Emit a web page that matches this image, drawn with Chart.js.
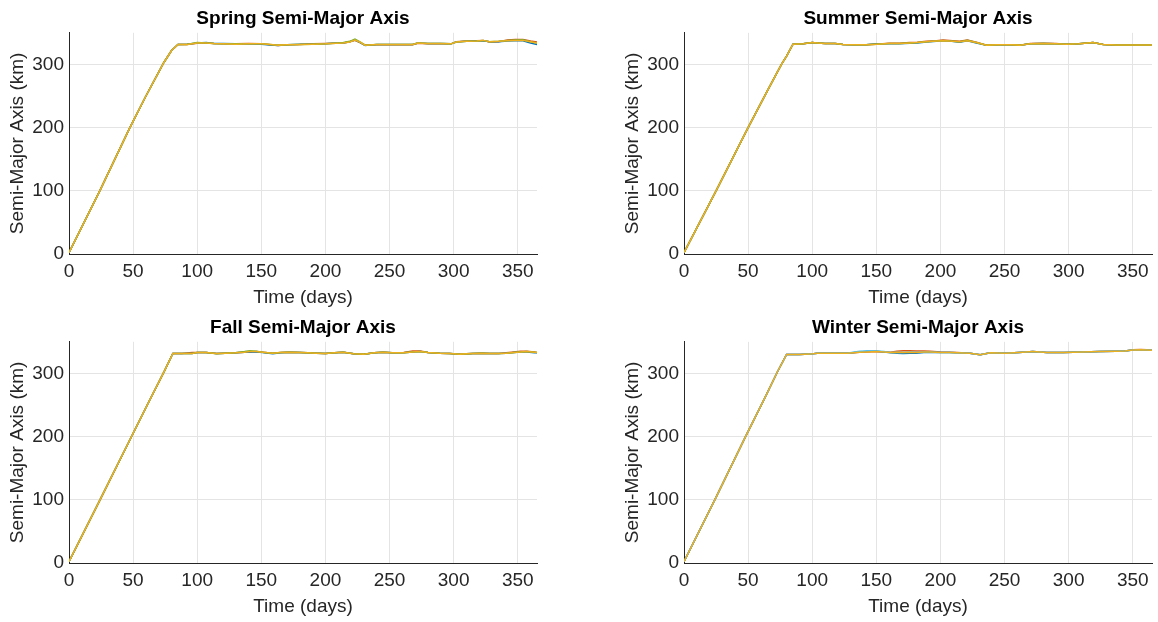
<!DOCTYPE html>
<html>
<head>
<meta charset="utf-8">
<script src="https://cdn.jsdelivr.net/npm/chart.js@4.4.0/dist/chart.umd.min.js"></script>
<style>
  html, body { margin: 0; padding: 0; background: #fff; }
  body { width: 1158px; height: 622px; position: relative; overflow: hidden; }
  canvas { position: absolute; }
</style>
</head>
<body>
<canvas id="spring" width="579" height="311" style="left:0;top:0"></canvas>
<canvas id="summer" width="543" height="311" style="left:615px;top:0"></canvas>
<canvas id="fall" width="579" height="311" style="left:0;top:309px"></canvas>
<canvas id="winter" width="543" height="311" style="left:615px;top:309px"></canvas>
<script>
// MATLAB default line colours
const YELLOW = '#EDB120'
const ORANGE = '#D95319'
const BLUE = '#0072BD'
const GREEN = '#77AC30'
const CYAN = '#4DBEEE'

const xTicks = [0, 50, 100, 150, 200, 250, 300, 350]
const yTicks = [0, 100, 200, 300]

// Spring
const springDays = [0, 24, 47, 60, 74, 80, 85, 92, 100, 107, 113, 120, 130, 140, 150, 157, 163, 170, 180, 190, 200, 208, 214, 219, 223, 227, 231, 240, 255, 268, 272, 280, 290, 298, 302, 310, 318, 323, 328, 335, 342, 348, 354, 360, 365]
const springYellow = [2, 100, 198, 250, 303, 322, 331.5, 331.5, 334, 334, 333, 332.5, 332, 332.5, 332.5, 331.5, 330.5, 331, 331.5, 332, 332.5, 333.5, 334, 335.5, 338.5, 335, 330.5, 331.5, 331.5, 331.5, 334, 333, 333, 332.5, 335.5, 336.5, 337, 338, 336, 336.5, 337.5, 338, 338, 336, 334]
const springOrange = [2, 100, 198, 250, 303, 322, 331.5, 331.5, 333.5, 334, 333, 332.5, 332.5, 333, 332.5, 331, 330, 331, 331.5, 332.5, 333, 333.5, 334, 336, 338, 334.5, 330.5, 331, 331, 331, 333.5, 332.5, 332.5, 332.5, 336, 337, 337.5, 338, 335.5, 336, 338.5, 339.5, 339.5, 337, 335.5]
const springBlue = [2, 100, 198, 250, 303, 322, 331.5, 332, 334, 334.5, 333, 333, 332.5, 332.5, 332, 330.5, 330, 331, 332, 332, 332.5, 334, 334, 336, 338.5, 334.5, 330, 331.5, 331.5, 331.5, 334, 333, 333, 332.5, 335.5, 336.5, 337, 337.5, 336, 336, 337, 337.5, 337.5, 334, 331.5]
const springGreen = [2, 100, 198, 250, 303, 322, 331.5, 331.5, 334.5, 334, 333, 332.5, 332.5, 332.5, 332.5, 331.5, 330.5, 331, 331.5, 332, 332.5, 333.5, 334.5, 336.5, 340, 335.5, 330.5, 331.5, 331.5, 331.5, 334, 333, 333, 332.5, 335.5, 336.5, 337, 338, 336, 336.5, 338, 338.5, 339, 336, 333.5]

// Summer
const summerDays = [0, 25, 50, 65, 76, 80, 85, 93, 100, 104, 110, 118, 124, 132, 142, 150, 160, 168, 176, 182, 189, 197, 202, 207, 215, 221, 228, 236, 245, 255, 262, 270, 280, 290, 298, 308, 319, 327, 337, 350, 365]
const summerYellow = [2, 100, 200, 258, 300, 313, 332, 332.5, 334.5, 334, 333, 333, 331.5, 331, 331, 332, 333, 333, 334, 334.5, 336, 337, 337.5, 337, 336, 337.5, 334.5, 330.5, 331, 331, 330.5, 332.5, 333, 332.5, 332, 332.5, 334.5, 331.5, 330.5, 330.5, 330.5]
const summerOrange = [2, 100, 200, 258, 300, 313, 332, 332.5, 334.5, 334, 333, 333, 331.5, 331, 331, 332, 333.5, 333.5, 334.5, 335, 336.5, 337.5, 338.5, 338, 336.5, 338.5, 335, 330.5, 331, 331, 330.5, 333, 333.5, 333, 332, 332.5, 334.5, 331.5, 330.5, 330.5, 330.5]
const summerBlue = [2, 100, 200, 258, 300, 313, 332, 332.5, 334.5, 334, 333, 333, 331.5, 331, 331, 332.5, 332.5, 332.5, 333.5, 334, 335.5, 336.5, 337.5, 337, 335, 337.5, 334, 330.5, 331, 331, 330.5, 332.5, 333, 332.5, 332, 332.5, 334.5, 331.5, 330.5, 330.5, 330.5]
const summerGreen = [2, 100, 200, 258, 300, 313, 332, 332.5, 334.5, 334, 333, 333, 331.5, 331, 331, 332, 333, 333, 334, 334.5, 336, 337, 338, 337, 336, 338, 334.5, 330.5, 331, 331, 330.5, 332.5, 333, 332.5, 332, 332.5, 334.5, 331.5, 330.5, 330.5, 330.5]

// Fall
const fallDays = [0, 24, 48, 62, 74, 81, 88, 96, 100, 107, 115, 122, 130, 137, 141, 146, 151, 159, 165, 172, 180, 186, 193, 200, 207, 214, 222, 230, 238, 245, 252, 261, 268, 274, 280, 289, 297, 305, 315, 322, 328, 335, 341, 347, 352, 357, 363, 365]
const fallYellow = [2, 99, 197, 254, 302, 331.5, 331.5, 331.5, 333, 333, 331.5, 332, 332.5, 333.5, 334.5, 334.5, 333.5, 332, 333, 333.5, 333, 332.5, 332, 331.5, 332.5, 333.5, 331, 330.5, 332.5, 333.5, 332.5, 332.5, 334, 334.5, 333, 332, 331.5, 330.5, 331.5, 332, 331.5, 331.5, 332, 333, 334, 334.5, 333.5, 333]
const fallOrange = [2, 99, 197, 254, 302, 331.5, 331.5, 333, 333, 333, 331.5, 332, 332.5, 333.5, 334, 334.5, 333.5, 332, 333, 333.5, 333, 332.5, 332, 331.5, 332.5, 333.5, 331, 330.5, 332.5, 333.5, 332.5, 333, 335.5, 335.5, 333, 332, 331.5, 330.5, 331.5, 332, 331.5, 331.5, 332.5, 334, 335, 335, 334, 333]
const fallBlue = [2, 99, 197, 254, 302, 331.5, 331.5, 331.5, 333, 333, 331.5, 332, 332.5, 333.5, 334, 334, 333, 331, 332.5, 333.5, 333, 332.5, 332, 331.5, 332.5, 333.5, 331, 330.5, 332.5, 333.5, 332.5, 332.5, 334, 334.5, 333, 332, 331.5, 330.5, 331.5, 332, 331.5, 331.5, 332, 333, 334, 334, 332.5, 332.5]
const fallGreen = [2, 99, 197, 254, 302, 331.5, 331.5, 331.5, 333, 333, 331, 332, 332.5, 334.5, 336, 335, 333.5, 332, 333, 333.5, 333, 332.5, 332, 331.5, 332.5, 333.5, 331, 330.5, 332.5, 333.5, 332.5, 332.5, 334, 334.5, 333, 332, 331.5, 330.5, 331.5, 332, 331.5, 331.5, 332, 333, 334, 334.5, 333.5, 333]

// Winter
const winterDays = [0, 24, 48, 62, 73, 80, 90, 98, 104, 114, 127, 137, 143, 150, 156, 161, 166, 171, 176, 181, 187, 192, 200, 207, 213, 223, 231, 239, 251, 264, 272, 283, 296, 311, 324, 337, 344, 350, 356, 361, 365]
const winterYellow = [2, 100, 200, 257, 303, 330, 330, 330.5, 332, 332, 332, 333.5, 334, 334.5, 334, 333, 333.5, 333, 333.5, 333, 334, 334, 333, 333, 332.5, 332, 329.5, 332.5, 332, 333.5, 334.5, 333, 333, 334, 334.5, 335, 335.5, 337, 337.5, 337, 336.5]
const winterOrange = [2, 100, 200, 257, 303, 330, 330, 330.5, 332, 332, 332, 333.5, 334, 334.5, 334, 333.5, 335, 336, 336, 335.5, 335.5, 335, 334, 333.5, 333, 332, 329.5, 332.5, 332, 333.5, 334.5, 333, 333, 334, 334.5, 335, 335.5, 337.5, 338, 337.5, 336.5]
const winterBlue = [2, 100, 200, 257, 303, 330, 330, 330.5, 332, 332, 332, 334, 335, 335, 334, 332.5, 332, 331.5, 332, 332, 333, 333.5, 333, 333, 332.5, 332, 329.5, 332.5, 332, 333.5, 334.5, 333, 333, 334, 334.5, 335, 335.5, 337, 337, 336.5, 336.5]
const winterCyan = [2, 100, 200, 257, 303, 330, 330, 330.5, 332, 332, 332, 335, 335.5, 335.5, 334.5, 333, 333.5, 333, 334, 333.5, 334, 334, 333, 333, 332.5, 332, 329.5, 332.5, 332, 333.5, 334.5, 333, 333, 334, 334.5, 335, 335.5, 337, 337.5, 337, 336.5]

const FONT = "'Liberation Sans', Arial, Helvetica, sans-serif"
const INK = '#262626'

// Build one subplot. The first series is drawn on top.
const makeChart = (id, title, days, series, rightPad) => {
  const datasets = series.map(([values, color]) => ({
    data: days.map((d, i) => ({ x: d, y: values[i] })),
    borderColor: color,
    backgroundColor: color,
    borderWidth: 1.5,
    pointRadius: 0,
    tension: 0,
  }))

  return new Chart(document.getElementById(id), {
    type: 'line',
    data: { datasets },
    options: {
      responsive: false,
      animation: false,
      layout: { padding: { left: 0, right: rightPad, top: 0, bottom: 0 } },
      plugins: {
        legend: { display: false },
        tooltip: { enabled: false },
        title: {
          display: true,
          text: title,
          fullSize: false,
          color: '#000',
          font: { family: FONT, size: 19, weight: 'bold', lineHeight: 1.2 },
          padding: { top: 7, bottom: 3 },
        },
      },
      scales: {
        x: {
          type: 'linear',
          min: 0,
          max: 365,
          afterFit: (s) => { s.height = 57 },
          afterBuildTicks: (s) => { s.ticks = xTicks.map(v => ({ value: v })) },
          ticks: { color: INK, font: { family: FONT, size: 19 }, padding: 6, maxRotation: 0, autoSkip: false },
          grid: { color: '#e4e4e4', lineWidth: 1, drawTicks: false },
          border: { display: true, color: INK, width: 1 },
          title: { display: true, text: 'Time (days)', color: INK, font: { family: FONT, size: 19 }, padding: { top: 0, bottom: 2 } },
        },
        y: {
          min: 0,
          max: 350,
          afterFit: (s) => { s.width = 69 },
          afterBuildTicks: (s) => { s.ticks = yTicks.map(v => ({ value: v })) },
          ticks: { color: INK, font: { family: FONT, size: 19 }, padding: 5 },
          grid: { color: '#e4e4e4', lineWidth: 1, drawTicks: false },
          border: { display: true, color: INK, width: 1 },
          title: { display: true, text: 'Semi-Major Axis (km)', color: INK, font: { family: FONT, size: 19 }, padding: { top: 6, bottom: 0 } },
        },
      },
    },
  })
}

makeChart('spring', 'Spring Semi-Major Axis', springDays,
  [[springYellow, YELLOW], [springGreen, GREEN], [springBlue, BLUE], [springOrange, ORANGE]], 42)
makeChart('summer', 'Summer Semi-Major Axis', summerDays,
  [[summerYellow, YELLOW], [summerGreen, GREEN], [summerBlue, BLUE], [summerOrange, ORANGE]], 6)
makeChart('fall', 'Fall Semi-Major Axis', fallDays,
  [[fallYellow, YELLOW], [fallGreen, GREEN], [fallBlue, BLUE], [fallOrange, ORANGE]], 42)
makeChart('winter', 'Winter Semi-Major Axis', winterDays,
  [[winterYellow, YELLOW], [winterCyan, CYAN], [winterBlue, BLUE], [winterOrange, ORANGE]], 6)
</script>
</body>
</html>
